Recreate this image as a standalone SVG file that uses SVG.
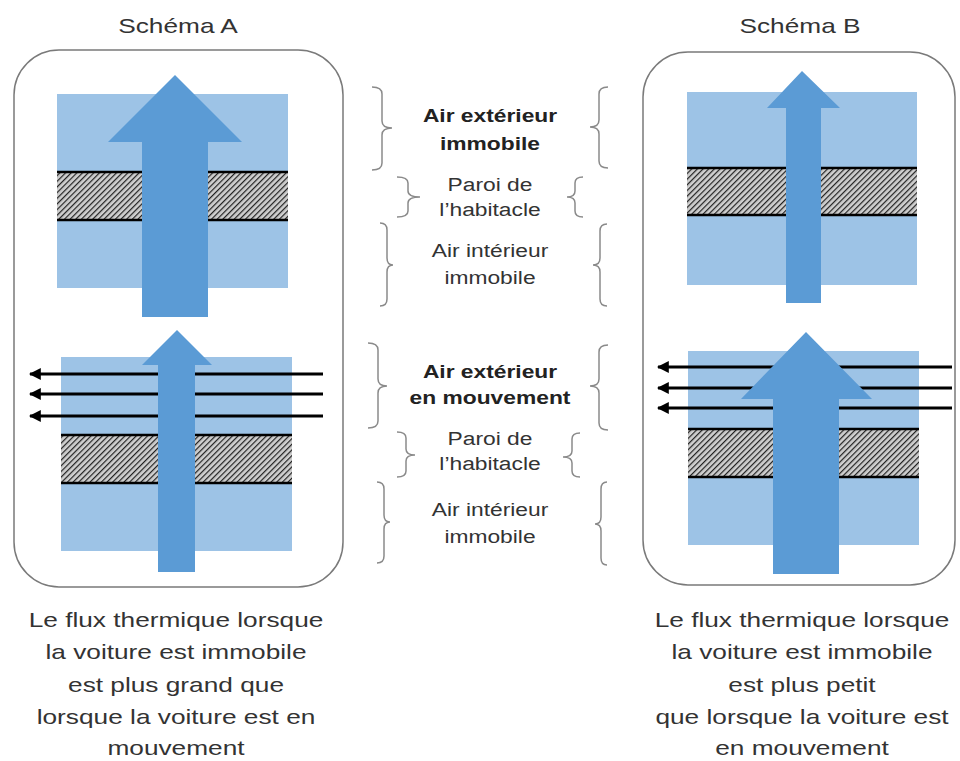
<svg xmlns="http://www.w3.org/2000/svg" width="960" height="761" viewBox="0 0 960 761">
<defs>
<pattern id="hatch" width="4" height="4" patternUnits="userSpaceOnUse" patternTransform="rotate(45)">
<rect width="4" height="4" fill="#cfcfcf"/>
<line x1="0" y1="0" x2="0" y2="4" stroke="#222" stroke-width="2.4"/>
</pattern>
<marker id="ah" viewBox="0 0 10 10" refX="9" refY="5" markerWidth="4" markerHeight="4" orient="auto">
<path d="M0,0 L10,5 L0,10 Z" fill="#000"/>
</marker>
<style>
.frame{fill:#fff;stroke:#7a7a7a;stroke-width:1.5}
.air{fill:#9dc3e6}
.wall{fill:url(#hatch)}
.wline{stroke:#000;stroke-width:2.5}
.flux{fill:#5b9bd5}
.wind{stroke:#000;stroke-width:3;fill:none;marker-end:url(#ah)}
.brace{fill:none;stroke:#8a8a8a;stroke-width:1.5}
.t{font-family:"Liberation Sans",Arial,sans-serif;fill:#333;text-anchor:middle}
.big{font-size:21px}
.mid{font-size:19px}
.b{font-weight:bold;fill:#222}
</style>
</defs>

<g id="titles">
<g transform="translate(178,0) scale(1.25,1)"><text class="t big" x="0" y="33">Schéma A</text></g>
<g transform="translate(800,0) scale(1.25,1)"><text class="t big" x="0" y="33">Schéma B</text></g>
</g>

<g id="schema-A">
<rect class="frame" x="14" y="50" width="329" height="537" rx="45"/>
<g id="A-top">
<rect class="air" x="57" y="94" width="231" height="194"/>
<rect class="wall" x="57" y="172" width="231" height="48"/>
<line class="wline" x1="57" y1="172" x2="288" y2="172"/>
<line class="wline" x1="57" y1="220" x2="288" y2="220"/>
<polygon class="flux" points="175,75 242,142 208,142 208,317 142,317 142,142 108,142"/>
</g>
<g id="A-bottom">
<rect class="air" x="61" y="357" width="231" height="194"/>
<rect class="wall" x="61" y="435" width="231" height="48"/>
<line class="wline" x1="61" y1="435" x2="292" y2="435"/>
<line class="wline" x1="61" y1="483" x2="292" y2="483"/>
<g id="A-wind">
<line class="wind" x1="323" y1="374" x2="30" y2="374"/>
<line class="wind" x1="323" y1="394" x2="30" y2="394"/>
<line class="wind" x1="323" y1="416" x2="30" y2="416"/>
</g>
<polygon class="flux" points="177,330 212,365 195,365 195,572 158,572 158,365 142,365"/>
</g>
</g>

<g id="schema-B">
<rect class="frame" x="643" y="52" width="312" height="533" rx="45"/>
<g id="B-top">
<rect class="air" x="687" y="92" width="230" height="193"/>
<rect class="wall" x="687" y="168" width="230" height="47"/>
<line class="wline" x1="687" y1="168" x2="917" y2="168"/>
<line class="wline" x1="687" y1="215" x2="917" y2="215"/>
<polygon class="flux" points="802,71 840,108 821,108 821,303 786,303 786,108 767,108"/>
</g>
<g id="B-bottom">
<rect class="air" x="688" y="351" width="231" height="194"/>
<rect class="wall" x="688" y="429" width="231" height="48"/>
<line class="wline" x1="688" y1="429" x2="919" y2="429"/>
<line class="wline" x1="688" y1="477" x2="919" y2="477"/>
<g id="B-wind">
<line class="wind" x1="952" y1="367" x2="658" y2="367"/>
<line class="wind" x1="952" y1="388" x2="658" y2="388"/>
<line class="wind" x1="952" y1="408" x2="658" y2="408"/>
</g>
<polygon class="flux" points="806,332 872,399 839,399 839,574 773,574 773,399 741,399"/>
</g>
</g>

<g id="braces">
<path class="brace" d="M372,87 Q382,87 382,94 L382,121 Q382,128 392,128 Q382,128 382,135 L382,163 Q382,170 372,170"/>
<path class="brace" d="M397,177 Q408,177 408,183 L408,191 Q408,197 420,197 Q408,197 408,203 L408,211 Q408,217 397,217"/>
<path class="brace" d="M380,223 Q387,223 387,230 L387,258 Q387,265 393,265 Q387,265 387,272 L387,299 Q387,306 380,306"/>
<path class="brace" d="M368,343 Q378,343 378,350 L378,379 Q378,386 387,386 Q378,386 378,393 L378,421 Q378,428 368,428"/>
<path class="brace" d="M397,432 Q406,432 406,438 L406,449 Q406,455 415,455 Q406,455 406,461 L406,471 Q406,477 397,477"/>
<path class="brace" d="M377,482 Q384,482 384,489 L384,515 Q384,522 390,522 Q384,522 384,529 L384,556 Q384,563 377,563"/>
<path class="brace" d="M608,87 Q599,87 599,94 L599,120 Q599,127 590,127 Q599,127 599,134 L599,161 Q599,168 608,168"/>
<path class="brace" d="M583,177 Q575,177 575,183 L575,191 Q575,197 567,197 Q575,197 575,203 L575,211 Q575,217 583,217"/>
<path class="brace" d="M607,224 Q600,224 600,231 L600,258 Q600,265 593,265 Q600,265 600,272 L600,299 Q600,306 607,306"/>
<path class="brace" d="M608,345 Q599,345 599,352 L599,379 Q599,386 590,386 Q599,386 599,393 L599,423 Q599,430 608,430"/>
<path class="brace" d="M580,433 Q572,433 572,439 L572,451 Q572,457 563,457 Q572,457 572,463 L572,471 Q572,477 580,477"/>
<path class="brace" d="M607,482 Q601,482 601,489 L601,517 Q601,524 595,524 Q601,524 601,531 L601,558 Q601,565 607,565"/>
</g>

<g id="labels" transform="translate(490,0) scale(1.2,1)">
<text class="t mid b" x="0" y="122">Air extérieur</text>
<text class="t mid b" x="0" y="150">immobile</text>
<text class="t mid" x="0" y="191">Paroi de</text>
<text class="t mid" x="0" y="216">l’habitacle</text>
<text class="t mid" x="0" y="257">Air intérieur</text>
<text class="t mid" x="0" y="284">immobile</text>
<text class="t mid b" x="0" y="378">Air extérieur</text>
<text class="t mid b" x="0" y="404">en mouvement</text>
<text class="t mid" x="0" y="445">Paroi de</text>
<text class="t mid" x="0" y="470">l’habitacle</text>
<text class="t mid" x="0" y="516">Air intérieur</text>
<text class="t mid" x="0" y="543">immobile</text>
</g>

<g id="caption-A" transform="translate(176,0) scale(1.25,1)">
<text class="t big" x="0" y="627">Le flux thermique lorsque</text>
<text class="t big" x="0" y="659">la voiture est immobile</text>
<text class="t big" x="0" y="692">est plus grand que</text>
<text class="t big" x="0" y="724">lorsque la voiture est en</text>
<text class="t big" x="0" y="755">mouvement</text>
</g>
<g id="caption-B" transform="translate(802,0) scale(1.25,1)">
<text class="t big" x="0" y="627">Le flux thermique lorsque</text>
<text class="t big" x="0" y="659">la voiture est immobile</text>
<text class="t big" x="0" y="692">est plus petit</text>
<text class="t big" x="0" y="724">que lorsque la voiture est</text>
<text class="t big" x="0" y="755">en mouvement</text>
</g>
</svg>
